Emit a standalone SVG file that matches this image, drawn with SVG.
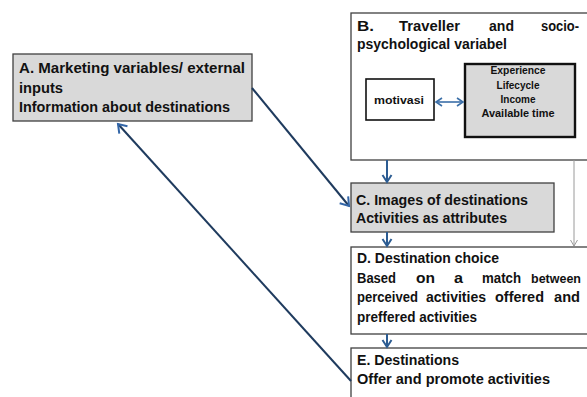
<svg xmlns="http://www.w3.org/2000/svg" width="587" height="397" viewBox="0 0 587 397">
<defs>
<style>
.box{stroke:#404040;stroke-width:1.3}
.gray{fill:#d9d9d9}
.white{fill:#ffffff}
.t{font-family:"Liberation Sans",Arial,sans-serif;font-weight:bold;font-size:14px;fill:#111}
.s{font-family:"Liberation Sans",Arial,sans-serif;font-weight:bold;font-size:11.5px;fill:#111;text-anchor:middle}
.conn{stroke:#1f3b5e;stroke-width:2;fill:none}
.down{stroke:#2c5c92;stroke-width:2;fill:none}
</style>
<marker id="ah" markerUnits="userSpaceOnUse" markerWidth="14" markerHeight="14" refX="11" refY="7" orient="auto">
<path d="M3,1.5 L11,7 L3,12.5" fill="none" stroke="#3366a8" stroke-width="2"/>
</marker>
<marker id="ahs" markerUnits="userSpaceOnUse" markerWidth="12" markerHeight="12" refX="9" refY="6" orient="auto">
<path d="M2,1.5 L9,6 L2,10.5" fill="none" stroke="#2c5c92" stroke-width="2"/>
</marker>
<marker id="ahg" markerUnits="userSpaceOnUse" markerWidth="10" markerHeight="10" refX="8" refY="5" orient="auto">
<path d="M2,1.5 L8,5 L2,8.5" fill="none" stroke="#9a9a9a" stroke-width="1"/>
</marker>
<marker id="ahd" markerUnits="userSpaceOnUse" markerWidth="10" markerHeight="10" refX="8" refY="5" orient="auto-start-reverse">
<path d="M2,1 L8,5 L2,9" fill="none" stroke="#3b6fa8" stroke-width="1.6"/>
</marker>
</defs>
<rect width="587" height="397" fill="#ffffff"/>

<g id="nodeA">
<rect class="box gray" x="13" y="54" width="239" height="67"/>
<text class="t" x="19" y="73" textLength="226" lengthAdjust="spacingAndGlyphs">A. Marketing variables/ external</text>
<text class="t" x="19" y="93" textLength="44" lengthAdjust="spacingAndGlyphs">inputs</text>
<text class="t" x="19" y="112" textLength="211" lengthAdjust="spacingAndGlyphs">Information about destinations</text>
</g>

<g id="nodeB">
<rect class="box white" x="351" y="13" width="250" height="147"/>
<text class="t" x="357" y="31" textLength="17" lengthAdjust="spacingAndGlyphs">B.</text>
<text class="t" x="399" y="31" textLength="61" lengthAdjust="spacingAndGlyphs">Traveller</text>
<text class="t" x="489" y="31" textLength="25" lengthAdjust="spacingAndGlyphs">and</text>
<text class="t" x="541" y="31" textLength="38" lengthAdjust="spacingAndGlyphs">socio-</text>
<text class="t" x="357" y="49" textLength="150" lengthAdjust="spacingAndGlyphs">psychological variabel</text>
<g id="motivasi">
<rect x="366" y="79" width="68" height="41" fill="#ffffff" stroke="#111" stroke-width="1.6"/>
<text class="s" x="399" y="104" textLength="50" lengthAdjust="spacingAndGlyphs">motivasi</text>
</g>
<g id="factors">
<rect x="465" y="64" width="110" height="73" fill="#d9d9d9" stroke="#111" stroke-width="2.4"/>
<text class="s" x="518" y="74" textLength="55" lengthAdjust="spacingAndGlyphs">Experience</text>
<text class="s" x="518" y="89" textLength="43" lengthAdjust="spacingAndGlyphs">Lifecycle</text>
<text class="s" x="518" y="103" textLength="35" lengthAdjust="spacingAndGlyphs">Income</text>
<text class="s" x="518" y="117" textLength="73" lengthAdjust="spacingAndGlyphs">Available time</text>
</g>
<line x1="436" y1="102" x2="463" y2="102" stroke="#3b6fa8" stroke-width="1.6" marker-start="url(#ahd)" marker-end="url(#ahd)"/>
</g>

<g id="nodeC">
<rect class="box gray" x="351" y="183" width="203" height="49"/>
<text class="t" x="356" y="205" textLength="172" lengthAdjust="spacingAndGlyphs">C. Images of destinations</text>
<text class="t" x="356" y="223" textLength="151" lengthAdjust="spacingAndGlyphs">Activities as attributes</text>
</g>

<g id="nodeD">
<rect class="box white" x="351" y="247" width="250" height="87"/>
<text class="t" x="357" y="263" textLength="142" lengthAdjust="spacingAndGlyphs">D. Destination choice</text>
<text class="t" x="357" y="283" textLength="39" lengthAdjust="spacingAndGlyphs">Based</text>
<text class="t" x="416" y="283" textLength="19" lengthAdjust="spacingAndGlyphs">on</text>
<text class="t" x="454" y="283" textLength="9" lengthAdjust="spacingAndGlyphs">a</text>
<text class="t" x="482" y="283" textLength="39" lengthAdjust="spacingAndGlyphs">match</text>
<text class="t" x="531" y="283" textLength="50" lengthAdjust="spacingAndGlyphs" style="font-size:13.5px">between</text>
<text class="t" x="357" y="302" textLength="61" lengthAdjust="spacingAndGlyphs">perceived</text>
<text class="t" x="426" y="302" textLength="60" lengthAdjust="spacingAndGlyphs">activities</text>
<text class="t" x="495" y="302" textLength="49" lengthAdjust="spacingAndGlyphs">offered</text>
<text class="t" x="554" y="302" textLength="26" lengthAdjust="spacingAndGlyphs">and</text>
<text class="t" x="357" y="322" textLength="120" lengthAdjust="spacingAndGlyphs">preffered activities</text>
</g>

<g id="nodeE">
<rect class="box white" x="351" y="348" width="250" height="60"/>
<text class="t" x="357" y="365" textLength="102" lengthAdjust="spacingAndGlyphs">E. Destinations</text>
<text class="t" x="357" y="384" textLength="193" lengthAdjust="spacingAndGlyphs">Offer and promote activities</text>
</g>

<g id="connectors">
<line class="conn" x1="252" y1="88" x2="349" y2="206" marker-end="url(#ah)"/>
<line class="conn" x1="351" y1="381" x2="118" y2="124" marker-end="url(#ah)"/>
<line class="down" x1="387" y1="160" x2="387" y2="182" marker-end="url(#ahs)"/>
<line class="down" x1="387" y1="232" x2="387" y2="246" marker-end="url(#ahs)"/>
<line class="down" x1="387" y1="334" x2="387" y2="347" marker-end="url(#ahs)"/>
<line x1="574" y1="160" x2="574" y2="246" stroke="#9a9a9a" stroke-width="1" marker-end="url(#ahg)"/>
</g>
</svg>
